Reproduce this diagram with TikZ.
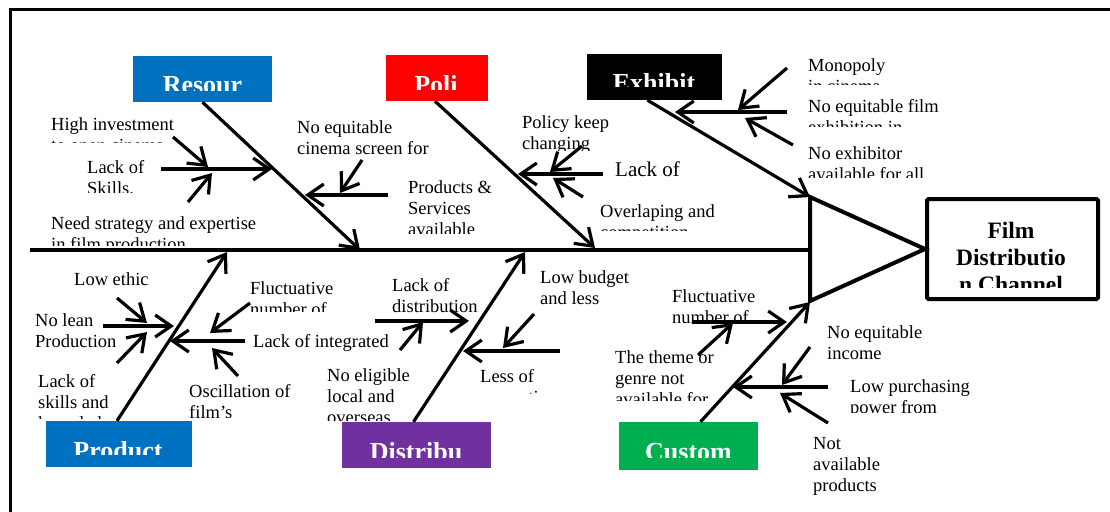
\documentclass[tikz,border=0pt]{standalone}
\usepackage{fontspec}
\setmainfont{Liberation Serif}
\usetikzlibrary{arrows.meta}
\definecolor{resblue}{HTML}{0070C0}
\definecolor{polred}{HTML}{FF0000}
\definecolor{dispurple}{HTML}{7030A0}
\definecolor{cusgreen}{HTML}{00B050}

% cause text: name, x, first baseline, clip bottom, text
\newcommand\causetext[5]{%
  \begin{scope}
    \clip (#2-4,#3-30) rectangle (#2+270,#4);
    \node[txt] (#1) at (#2,#3-14.7) {\strut #5};
  \end{scope}}
% category label inside a coloured box: name, x centre, baseline, clip bottom, text
\newcommand\boxlabel[5]{%
  \begin{scope}
    \clip (#2-90,#4-40) rectangle (#2+90,#4);
    \node[lbl] (#1) at (#2,#3) {#5};
  \end{scope}}

\begin{document}
\begin{tikzpicture}[x=1pt,y=-1pt,
  bone/.style={line width=3.2pt, -{Straight Barb[length=16pt,width=22pt]}},
  txt/.style={anchor=north west, inner sep=0pt, align=left,
              font=\fontsize{18.5}{21}\selectfont},
  lbl/.style={anchor=base, inner sep=0pt, text=white,
              font=\fontsize{26}{30}\selectfont\bfseries},
  catbox/.style={inner sep=0pt, minimum height=46pt}
]
\useasboundingbox (0,0) rectangle (1110,511);

% page frame
\draw[line width=3pt] (10,530) -- (10,10) -- (1130,10);

% head: triangle and effect box
\coordinate (tailL) at (30,250);
\coordinate (triTop) at (810,197);
\coordinate (triBot) at (810,301);
\coordinate (triTip) at (925,249);
\draw[line width=4pt, line join=miter] (triTop) -- (triTip) -- (triBot) -- cycle;
\draw[line width=3.2pt] (tailL) -- (810,250);
\node[draw, line width=4pt, rounded corners=1.5pt, minimum width=171pt,
      minimum height=100pt, inner sep=0pt] (film) at (1012.5,249) {};
\begin{scope}
  \clip (930,202) rectangle (1095,287);
  \node[anchor=north, inner sep=0pt, align=center,
        font=\fontsize{23.5}{27}\selectfont\bfseries] (filmtxt)
        at (1011,238-18.9) {\strut Film\\Distributio\\n Channel};
\end{scope}

% category boxes
\node[catbox, fill=resblue, minimum width=139pt] (resour) at (202.5,79) {};
\node[catbox, fill=polred, minimum width=102pt] (poli) at (437,78) {};
\node[catbox, fill=black, minimum width=135pt] (exhibit) at (654.5,77) {};
\node[catbox, fill=resblue, minimum width=146pt] (product) at (119,444) {};
\node[catbox, fill=dispurple, minimum width=149pt] (distribu) at (416.5,445) {};
\node[catbox, fill=cusgreen, minimum width=139pt, minimum height=48pt] (custom) at (688.5,446) {};
\boxlabel{lResour}{202.5}{93}{90}{Resour}
\boxlabel{lPoli}{436}{93}{89}{Poli}
\boxlabel{lExhibit}{654}{92}{86}{Exhibit}
\boxlabel{lProduct}{118}{459}{454}{Product}
\boxlabel{lDistribu}{416}{460}{457}{Distribu}
\boxlabel{lCustom}{688.5}{460}{457}{Custom}

% joints on the spine and the head
\coordinate (jRes) at (360,250);
\coordinate (jPol) at (595,248);
\coordinate (jPro) at (227,252);
\coordinate (jDis) at (525,252);
\coordinate (jCus) at (810,302);

% main bones
\draw[bone] (resour.south) -- (jRes);
\draw[bone] ([xshift=-2pt]poli.south) -- (jPol);
\draw[bone] ([xshift=-7pt]exhibit.south) -- (triTop);
\draw[bone] ([xshift=-2pt]product.north) -- (jPro);
\draw[bone] ([xshift=-3pt]distribu.north) -- (jDis);
\draw[bone] ([xshift=12pt]custom.north) -- (jCus);

% Resources causes
\draw[bone] (161,169) -- (272,169);
\draw[bone] (173,137) -- (208,167);
\draw[bone] (188,202) -- (212,173);
\draw[bone] (388,195) -- (305,195);
\draw[bone] (362,160) -- (340,193);
% Policy causes
\draw[bone] (603,174) -- (518,174);
\draw[bone] (582,146) -- (550,172);
\draw[bone] (583,197) -- (553,178);
% Exhibitor causes
\draw[bone] (787,112) -- (675,112);
\draw[bone] (787,68) -- (738,110);
\draw[bone] (793,145) -- (745,118);
% Product causes
\draw[bone] (103,326) -- (174,326);
\draw[bone] (117,298) -- (147,323);
\draw[bone] (117,363) -- (147,332);
\draw[bone] (245,341) -- (170,341);
\draw[bone] (250,303) -- (210,333);
\draw[bone] (238,376) -- (212,348);
% Distribution causes
\draw[bone] (375,321) -- (469,321);
\draw[bone] (400,350) -- (423,322);
\draw[bone] (560,351) -- (463,351);
\draw[bone] (534,314) -- (503,348);
% Customer causes
\draw[bone] (692,322) -- (787,322);
\draw[bone] (698,355) -- (733,323);
\draw[bone] (828,387) -- (733,387);
\draw[bone] (810,347) -- (782,385);
\draw[bone] (828,423) -- (780,393);

% cause labels, upper half
\causetext{tHigh}{51}{130}{142}{High investment\\to open cinema}
\causetext{tSkill}{87}{173}{192}{Lack of\\Skills.}
\causetext{tNeed}{51}{229}{245}{Need strategy and expertise\\in film production}
\causetext{tScreen}{297}{133}{162}{No equitable\\cinema screen for}
\causetext{tProd}{408}{193}{233}{Products \&\\Services\\available}
\causetext{tPolicy}{522}{128}{150}{Policy keep\\changing}
\node[anchor=base west, inner sep=0pt, font=\fontsize{21}{24}\selectfont] (tLack) at (615,176) {Lack of};
\causetext{tOver}{600}{217}{230}{Overlaping and\\competition}
\causetext{tMono}{808}{71}{84}{Monopoly\\in cinema}
\causetext{tFilm}{808}{112}{126}{No equitable film\\exhibition in}
\causetext{tExh}{808}{159}{177}{No exhibitor\\available for all}

% cause labels, lower half
\causetext{tEthic}{74}{285}{300}{Low ethic}
\causetext{tLean}{35}{326}{355}{No lean\\Production}
\causetext{tLskill}{38}{387}{418}{Lack of\\skills and\\knowledge}
\causetext{tFluc}{250}{294}{311}{Fluctuative\\number of}
\causetext{tInteg}{253}{347}{355}{Lack of integrated}
\causetext{tOsc}{189}{397}{417}{Oscillation of\\film’s}
\causetext{tElig}{327}{381}{420}{No eligible\\local and\\overseas}
\causetext{tDist}{392}{291}{318}{Lack of\\distribution}
\causetext{tBudget}{540}{283}{310}{Low budget\\and less}
\causetext{tLess}{480}{382}{393}{Less of\\promotion}
\causetext{tTheme}{615}{363}{400}{The theme or\\genre not\\available for}
\causetext{tFluc2}{672}{302}{326}{Fluctuative\\number of}
\causetext{tIncome}{827}{338}{365}{No equitable\\income}
\causetext{tPower}{850}{392}{412}{Low purchasing\\power from}
\causetext{tNot}{813}{449}{496}{Not\\available\\products}
\end{tikzpicture}
\end{document}
